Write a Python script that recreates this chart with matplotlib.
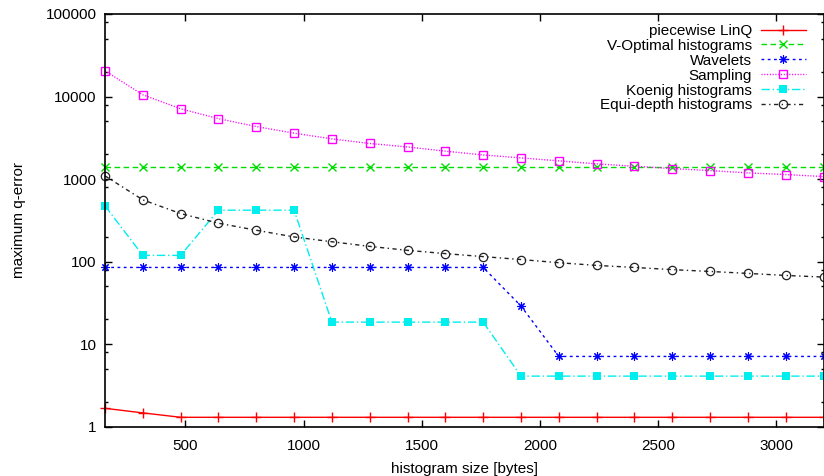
import matplotlib
matplotlib.use('Agg')
import matplotlib.pyplot as plt
from matplotlib.ticker import FixedLocator, FixedFormatter, NullFormatter

plt.rcParams['font.family'] = ['Liberation Sans', 'DejaVu Sans']
plt.rcParams['font.size'] = 11

# histogram size in bytes
sizes = [160, 320, 480, 640, 800, 960, 1120, 1280, 1440, 1600,
         1760, 1920, 2080, 2240, 2400, 2560, 2720, 2880, 3040, 3200]

linq = [1.67, 1.47, 1.3, 1.3, 1.3, 1.3, 1.3, 1.3, 1.3, 1.3,
        1.3, 1.3, 1.3, 1.3, 1.3, 1.3, 1.3, 1.3, 1.3, 1.3]
voptimal = [1400, 1400, 1400, 1400, 1400, 1400, 1400, 1400, 1400, 1400,
            1400, 1400, 1400, 1400, 1400, 1400, 1400, 1400, 1400, 1400]
wavelets = [85, 85, 85, 85, 85, 85, 85, 85, 85, 85,
            85, 29, 7.1, 7.1, 7.1, 7.1, 7.1, 7.1, 7.1, 7.1]
sampling = [20500, 10500, 7100, 5400, 4330, 3600, 3070, 2700, 2450, 2180,
            1960, 1806, 1662, 1528, 1432, 1340, 1268, 1189, 1135, 1073]
koenig = [473, 119, 119, 420, 420, 420, 18.5, 18.5, 18.5, 18.5,
          18.5, 4.1, 4.1, 4.1, 4.1, 4.1, 4.1, 4.1, 4.1, 4.1]
equidepth = [1094, 560, 382, 292, 240, 199, 174, 153, 137, 125,
             115, 106, 97, 90, 85, 80, 76, 72, 68, 65]

y_ticks = [1, 10, 100, 1000, 10000, 100000]
y_tick_labels = ['1', '10', '100', '1000', '10000', '100000']
x_ticks = [500, 1000, 1500, 2000, 2500, 3000]

fig = plt.figure(figsize=(8.24, 4.76), dpi=100)
ax = fig.add_axes([105 / 824, 1 - 426.7 / 476, 718.5 / 824, 412.7 / 476])

lw = 1.0
ax.plot(sizes, linq, color='#ff0000', lw=lw, marker='+', ms=7, mew=1.0,
        label='piecewise LinQ', clip_on=False)
ax.plot(sizes, voptimal, color='#00dd00', lw=lw, dashes=(4, 2.5), marker='x', ms=6,
        mew=1.0, label='V-Optimal histograms', clip_on=False)
ax.plot(sizes, wavelets, color='#0000ff', lw=lw, dashes=(2, 2.5), marker=(8, 2, 0), ms=6,
        mew=0.8, label='Wavelets', clip_on=False)
ax.plot(sizes, sampling, color='#ff00ff', lw=lw, dashes=(0.8, 1.2), marker='s', ms=6,
        mfc='none', mew=1.0, label='Sampling', clip_on=False)
ax.plot(sizes, koenig, color='#00eeee', lw=lw, dashes=(6, 2, 1, 2), marker='s', ms=6,
        mew=0, label='Koenig histograms', clip_on=False)
ax.plot(sizes, equidepth, color='#222222', lw=lw, dashes=(3, 2.5, 1, 2.5), marker='o', ms=6,
        mfc='none', mew=0.9, label='Equi-depth histograms', clip_on=False)

ax.set_yscale('log')
ax.set_xlim(160, 3200)
ax.set_ylim(1, 100000)

ax.yaxis.set_major_locator(FixedLocator(y_ticks))
ax.yaxis.set_major_formatter(FixedFormatter(y_tick_labels))
minor = [m * d for d in [1, 10, 100, 1000, 10000] for m in (2, 5, 8)]
ax.yaxis.set_minor_locator(FixedLocator(minor))
ax.yaxis.set_minor_formatter(NullFormatter())
ax.xaxis.set_major_locator(FixedLocator(x_ticks))
ax.xaxis.set_minor_locator(FixedLocator([]))

ax.tick_params(which='both', direction='in', top=True, right=True, width=1.0, colors='black')
ax.tick_params(which='major', length=5, pad=6)
ax.tick_params(which='minor', length=2.5)
ax.tick_params(axis='x', pad=9)
for sp in ax.spines.values():
    sp.set_linewidth(1.2)

ax.set_xlabel('histogram size [bytes]', labelpad=6)
ax.set_ylabel('maximum q-error', labelpad=14)

ax.legend(loc='upper right', bbox_to_anchor=(0.975, 0.976), frameon=False,
          markerfirst=False, handlelength=2.9, handletextpad=0.6,
          labelspacing=0.06, borderpad=0, borderaxespad=0)

fig.savefig('out.png', dpi=100)
